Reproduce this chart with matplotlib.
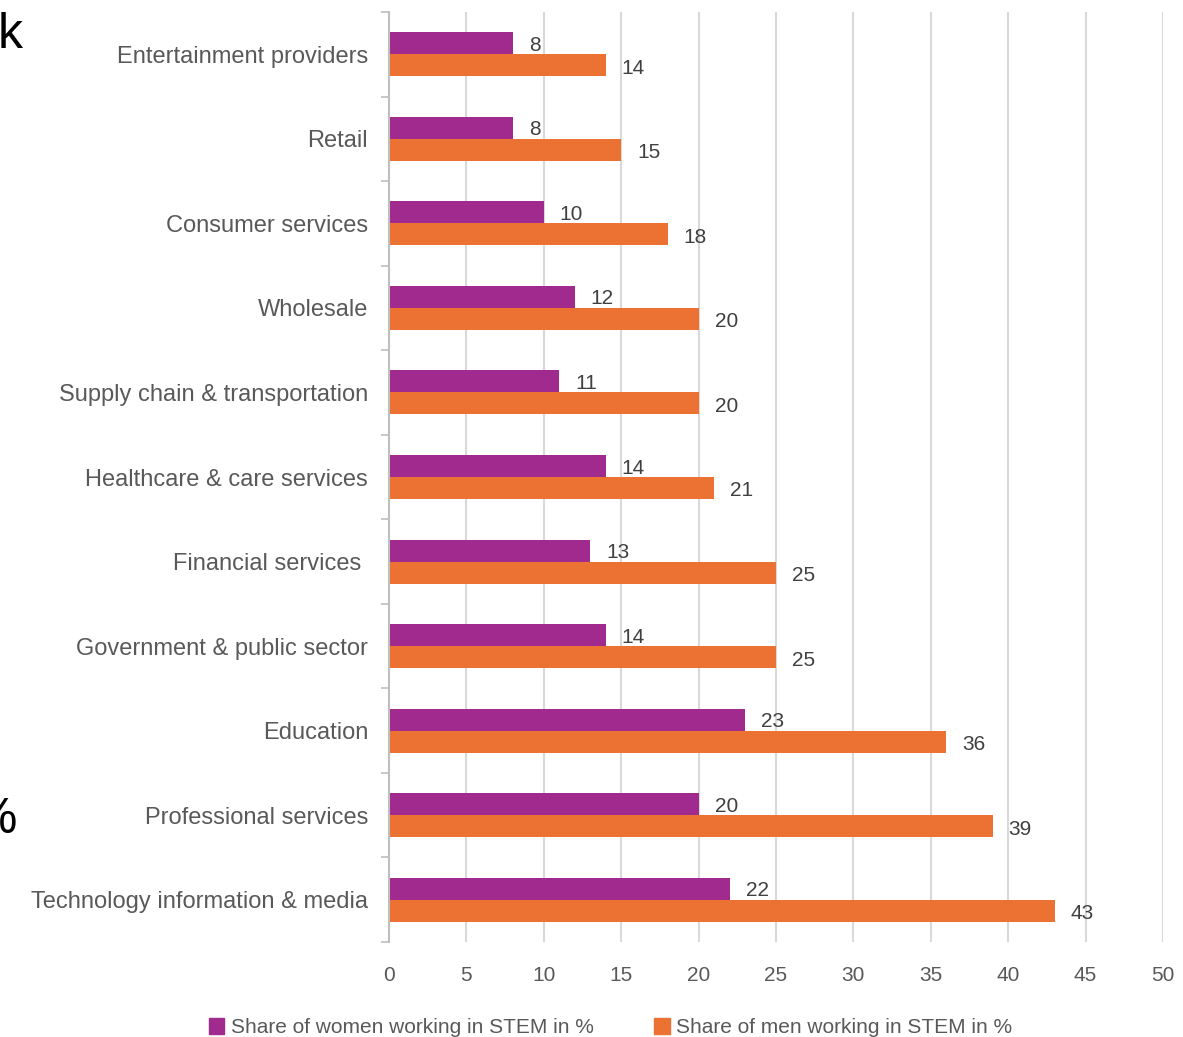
import numpy as np
import matplotlib
matplotlib.use("Agg")
import matplotlib.pyplot as plt
from matplotlib.patches import Patch

categories = [
    "Entertainment providers",
    "Retail",
    "Consumer services",
    "Wholesale",
    "Supply chain & transportation",
    "Healthcare & care services",
    "Financial services ",
    "Government & public sector",
    "Education",
    "Professional services",
    "Technology information & media",
]
women = [8, 8, 10, 12, 11, 14, 13, 14, 23, 20, 22]
men = [14, 15, 18, 20, 20, 21, 25, 25, 36, 39, 43]
xticks = list(range(0, 55, 5))

purple = "#A02A8E"
orange = "#EB7233"
txt = "#595959"

plt.rcParams['font.family'] = ['Liberation Sans', 'DejaVu Sans']

fig = plt.figure(figsize=(11.83, 10.37), dpi=100)
ax = fig.add_axes([389 / 1183, 1 - 942 / 1037, (1163 - 389) / 1183, (942 - 12) / 1037])

y = np.arange(len(categories))
h = 0.26
ax.barh(y - h / 2, women, height=h, color=purple, label="Share of women working in STEM in %")
ax.barh(y + h / 2, men, height=h, color=orange, label="Share of men working in STEM in %")

for i in range(len(categories)):
    ax.annotate(str(women[i]), (women[i], y[i] - h / 2), xytext=(16, -2), textcoords="offset pixels",
                va="center", ha="left", fontsize=15, color="#404040")
    ax.annotate(str(men[i]), (men[i], y[i] + h / 2), xytext=(16, -3), textcoords="offset pixels",
                va="center", ha="left", fontsize=15, color="#404040")

ax.set_xlim(0, 50)
ax.set_ylim(len(categories) - 0.5, -0.5)
ax.set_xticks(xticks)
ax.set_yticks(y)
ax.set_yticklabels(categories)
ax.set_yticks(np.arange(-0.5, len(categories), 1), minor=True)
ax.tick_params(axis="y", which="major", length=0, pad=15, labelsize=17, labelcolor=txt)
ax.tick_params(axis="y", which="minor", length=6, width=1.2, color="#BFBFBF")
ax.tick_params(axis="x", length=0, pad=17, labelsize=15, labelcolor=txt)
ax.grid(axis="x", color="#D9D9D9", linewidth=1.5)
ax.set_axisbelow(True)
for s in ["top", "right", "bottom"]:
    ax.spines[s].set_visible(False)
ax.spines["left"].set_color("#BFBFBF")
ax.spines["left"].set_linewidth(1.5)

handles = [Patch(color=purple), Patch(color=orange)]
fig.legend(handles, ["Share of women working in STEM in %", "Share of men working in STEM in %"],
           loc="center", bbox_to_anchor=(0.516, 0.009), ncol=2, frameon=False,
           fontsize=15, labelcolor=txt, handlelength=0.75, handleheight=0.75,
           handletextpad=0.3, columnspacing=2.9)

# stray fragments cropped from the surrounding page
fig.text(-2 / 1183, 1 - 35 / 1037, "k", fontsize=36, color="black", ha="left", va="center")
fig.text(17 / 1183, 1 - 820 / 1037, "%", fontsize=36, color="black", ha="right", va="center")

fig.savefig("out.png", dpi=100)
